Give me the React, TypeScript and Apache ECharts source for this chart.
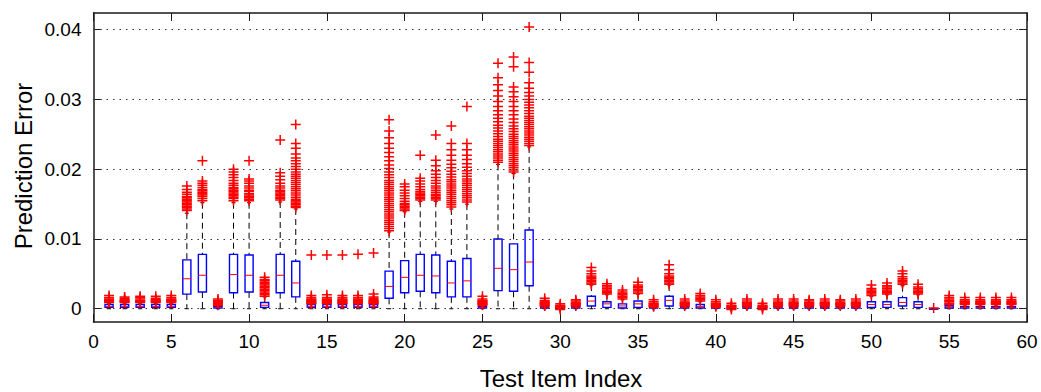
import React, { useEffect, useRef } from "react";
import * as echarts from "echarts";

// Test item indices
const items = [
  1, 2, 3, 4, 5, 6, 7, 8, 9, 10, 11, 12, 13, 14, 15, 16, 17, 18, 19, 20,
  21, 22, 23, 24, 25, 26, 27, 28, 29, 30, 31, 32, 33, 34, 35, 36, 37, 38, 39, 40,
  41, 42, 43, 44, 45, 46, 47, 48, 49, 50, 51, 52, 53, 54, 55, 56, 57, 58, 59,
];

// Box statistics per item
const whiskerLow = [
  0, 0, 0, 0, 0, 0, 0, 0, 0, 0, 0, 0, 0, 0, 0, 0, 0, 0, 0, 0,
  0, 0, 0, 0, 0, 0, 0, 0, 0, 0, 0, 0, 0, 0, 0, 0, 0, 0, 0, 0,
  0, 0, 0, 0, 0, 0, 0, 0, 0, 0, 0, 0, 0, 0, 0, 0, 0, 0, 0,
];
const q1 = [
  0.0002, 0.0002, 0.0002, 0.0002, 0.0002, 0.0021, 0.0024, 0.0001, 0.0023, 0.0024,
  0.0002, 0.0023, 0.0017, 0.0002, 0.0002, 0.0002, 0.0002, 0.0002, 0.0015, 0.0023,
  0.0025, 0.0023, 0.0017, 0.0017, 0.0001, 0.0026, 0.0025, 0.0033, 0.0001, 0.0,
  0.0001, 0.0004, 0.0002, 0.0001, 0.0002, 0.0001, 0.0004, 0.0001, 0.0001, 0.0001,
  0.0, 0.0001, 0.0, 0.0001, 0.0001, 0.0001, 0.0001, 0.0001, 0.0001, 0.0002,
  0.0002, 0.0004, 0.0002, 0.0, 0.0001, 0.0001, 0.0001, 0.0001, 0.0001,
];
const median = [
  0.0003, 0.0003, 0.0003, 0.0003, 0.0003, 0.0043, 0.0048, 0.0002, 0.0049, 0.0048,
  0.0005, 0.0048, 0.0037, 0.0003, 0.0003, 0.0003, 0.0003, 0.0003, 0.0032, 0.0045,
  0.0048, 0.0047, 0.0037, 0.004, 0.0002, 0.0058, 0.0056, 0.0067, 0.0002, 0.0001,
  0.0002, 0.0011, 0.0007, 0.0004, 0.0007, 0.0002, 0.0012, 0.0002, 0.0003, 0.0002,
  0.0001, 0.0002, 0.0001, 0.0002, 0.0002, 0.0002, 0.0002, 0.0002, 0.0002, 0.0006,
  0.0006, 0.0009, 0.0006, 0.0, 0.0003, 0.0002, 0.0002, 0.0002, 0.0002,
];
const q3 = [
  0.0006, 0.0006, 0.0006, 0.0006, 0.0006, 0.007, 0.0078, 0.0003, 0.0078, 0.0077,
  0.0009, 0.0078, 0.0068, 0.0006, 0.0006, 0.0006, 0.0006, 0.0006, 0.0054, 0.0069,
  0.0078, 0.0077, 0.0068, 0.0072, 0.0003, 0.01, 0.0093, 0.0113, 0.0003, 0.0001,
  0.0003, 0.0018, 0.001, 0.0007, 0.0011, 0.0003, 0.0018, 0.0003, 0.0006, 0.0003,
  0.0001, 0.0003, 0.0001, 0.0003, 0.0003, 0.0003, 0.0003, 0.0003, 0.0003, 0.001,
  0.001, 0.0016, 0.001, 0.0, 0.0005, 0.0003, 0.0003, 0.0003, 0.0003,
];
const whiskerHigh = [
  0.0008, 0.0008, 0.0008, 0.0008, 0.0008, 0.0137, 0.0152, 0.0004, 0.0152, 0.0152,
  0.0017, 0.0153, 0.0143, 0.0006, 0.0006, 0.0006, 0.0006, 0.0006, 0.011, 0.0139,
  0.0154, 0.0154, 0.0143, 0.015, 0.0004, 0.0207, 0.0194, 0.0232, 0.0003, 0.0001,
  0.0003, 0.0034, 0.002, 0.0013, 0.0021, 0.0003, 0.0034, 0.0003, 0.001, 0.0003,
  0.0001, 0.0003, 0.0001, 0.0003, 0.0003, 0.0003, 0.0003, 0.0003, 0.0003, 0.0018,
  0.002, 0.0033, 0.002, 0.0, 0.0006, 0.0004, 0.0004, 0.0004, 0.0004,
];

// Outlier values per item (red "+")
const outliers = [
  [0.0009, 0.001, 0.0011, 0.0012, 0.0013, 0.0014, 0.0016, 0.0019],
  [0.0009, 0.001, 0.0011, 0.0012, 0.0013, 0.0015, 0.0017],
  [0.0009, 0.001, 0.0011, 0.0012, 0.0014, 0.0016, 0.0018],
  [0.0009, 0.001, 0.0011, 0.0012, 0.0013, 0.0015, 0.0018],
  [0.0009, 0.001, 0.0011, 0.0012, 0.0013, 0.0014, 0.0016, 0.0019],
  [0.0141, 0.0143, 0.0145, 0.0147, 0.0149, 0.0151, 0.0153, 0.0155, 0.0157, 0.0159, 0.0161, 0.0164, 0.0167, 0.0171, 0.0176],
  [0.0155, 0.0158, 0.0161, 0.0163, 0.0165, 0.0167, 0.0169, 0.0171, 0.0174, 0.0177, 0.018, 0.0183, 0.0212],
  [0.0005, 0.0006, 0.0007, 0.0008, 0.0009, 0.001, 0.0011, 0.0012, 0.0014],
  [0.0155, 0.0158, 0.016, 0.0162, 0.0164, 0.0166, 0.0168, 0.017, 0.0172, 0.0174, 0.0177, 0.018, 0.0184, 0.0188, 0.0192, 0.0196, 0.02],
  [0.0155, 0.0157, 0.0159, 0.0161, 0.0163, 0.0165, 0.0168, 0.017, 0.0173, 0.0176, 0.018, 0.0183, 0.0186, 0.0212],
  [0.0018, 0.002, 0.0022, 0.0024, 0.0026, 0.0028, 0.003, 0.0032, 0.0034, 0.0036, 0.0038, 0.004, 0.0042, 0.0045],
  [0.0156, 0.0158, 0.016, 0.0162, 0.0164, 0.0166, 0.0168, 0.017, 0.0173, 0.0176, 0.018, 0.0185, 0.019, 0.0195, 0.0242],
  [0.0145, 0.0147, 0.0149, 0.0151, 0.0153, 0.0155, 0.0157, 0.016, 0.0163, 0.0166, 0.0169, 0.0172, 0.0175, 0.0178, 0.0181, 0.0184, 0.0187, 0.019, 0.0193, 0.0196, 0.02, 0.0204, 0.0208, 0.0212, 0.0216, 0.0222, 0.023, 0.0237, 0.0264],
  [0.0007, 0.0008, 0.0009, 0.001, 0.0011, 0.0012, 0.0013, 0.0014, 0.0016, 0.0019, 0.0077],
  [0.0007, 0.0008, 0.0009, 0.001, 0.0011, 0.0012, 0.0013, 0.0014, 0.0016, 0.002, 0.0077],
  [0.0007, 0.0008, 0.0009, 0.001, 0.0011, 0.0012, 0.0013, 0.0014, 0.0016, 0.0019, 0.0077],
  [0.0007, 0.0008, 0.0009, 0.001, 0.0011, 0.0012, 0.0013, 0.0014, 0.0016, 0.0019, 0.0078],
  [0.0007, 0.0008, 0.0009, 0.001, 0.0011, 0.0012, 0.0013, 0.0015, 0.0017, 0.0021, 0.008],
  [0.0112, 0.0115, 0.0118, 0.0121, 0.0124, 0.0127, 0.013, 0.0133, 0.0136, 0.0139, 0.0142, 0.0145, 0.0148, 0.0151, 0.0154, 0.0157, 0.016, 0.0163, 0.0166, 0.0169, 0.0172, 0.0175, 0.0178, 0.0181, 0.0184, 0.0188, 0.0192, 0.0196, 0.0201, 0.0206, 0.0212, 0.0218, 0.0224, 0.023, 0.0237, 0.0245, 0.0255, 0.0271],
  [0.0141, 0.0143, 0.0145, 0.0147, 0.0149, 0.0151, 0.0154, 0.0158, 0.0162, 0.0166, 0.017, 0.0175, 0.0179],
  [0.0156, 0.0158, 0.016, 0.0162, 0.0164, 0.0166, 0.0168, 0.0171, 0.0175, 0.0179, 0.0183, 0.0187, 0.022],
  [0.0156, 0.0158, 0.016, 0.0162, 0.0164, 0.0167, 0.017, 0.0173, 0.0176, 0.018, 0.0184, 0.0188, 0.0193, 0.0198, 0.0205, 0.0213, 0.0249],
  [0.0146, 0.0149, 0.0152, 0.0155, 0.0158, 0.0161, 0.0164, 0.0167, 0.017, 0.0173, 0.0176, 0.0179, 0.0182, 0.0185, 0.0189, 0.0193, 0.0197, 0.0202, 0.0207, 0.0213, 0.022, 0.0228, 0.0237, 0.0262],
  [0.0153, 0.0156, 0.0159, 0.0162, 0.0165, 0.0168, 0.0171, 0.0174, 0.0177, 0.018, 0.0183, 0.0186, 0.019, 0.0194, 0.0198, 0.0203, 0.0208, 0.0214, 0.022, 0.0228, 0.0237, 0.029],
  [0.0005, 0.0006, 0.0007, 0.0008, 0.0009, 0.001, 0.0011, 0.0012, 0.0014, 0.0018],
  [0.021, 0.0213, 0.0216, 0.0219, 0.0222, 0.0225, 0.0228, 0.0231, 0.0234, 0.0237, 0.024, 0.0243, 0.0247, 0.0251, 0.0255, 0.0259, 0.0263, 0.0268, 0.0273, 0.0278, 0.0284, 0.029, 0.0297, 0.0305, 0.0313, 0.0321, 0.0331, 0.0352],
  [0.0196, 0.0199, 0.0202, 0.0205, 0.0208, 0.0211, 0.0214, 0.0217, 0.022, 0.0223, 0.0226, 0.0229, 0.0232, 0.0235, 0.0238, 0.0241, 0.0244, 0.0247, 0.025, 0.0254, 0.0258, 0.0262, 0.0267, 0.0272, 0.0278, 0.0284, 0.029, 0.0297, 0.0304, 0.0311, 0.0318, 0.0347, 0.0361],
  [0.0234, 0.0237, 0.024, 0.0243, 0.0246, 0.0249, 0.0252, 0.0255, 0.0258, 0.0261, 0.0264, 0.0267, 0.027, 0.0273, 0.0276, 0.028, 0.0284, 0.0288, 0.0292, 0.0296, 0.03, 0.0305, 0.031, 0.0316, 0.0324, 0.0339, 0.0353, 0.0404],
  [0.0004, 0.0005, 0.0006, 0.0007, 0.0008, 0.0009, 0.001, 0.0012, 0.0015],
  [-0.0001, 0.0001, 0.0002, 0.0003, 0.0004, 0.0005, 0.0007],
  [0.0004, 0.0005, 0.0006, 0.0007, 0.0008, 0.0009, 0.0011, 0.0013],
  [0.0035, 0.0037, 0.0039, 0.0041, 0.0043, 0.0045, 0.0047, 0.005, 0.0054, 0.0059],
  [0.0021, 0.0023, 0.0025, 0.0027, 0.0029, 0.0031, 0.0033, 0.0036],
  [0.0014, 0.0016, 0.0018, 0.002, 0.0022, 0.0024, 0.0027],
  [0.0022, 0.0024, 0.0026, 0.0028, 0.003, 0.0032, 0.0034, 0.0038],
  [0.0003, 0.0004, 0.0005, 0.0006, 0.0007, 0.0008, 0.001, 0.0013],
  [0.0035, 0.0037, 0.0039, 0.0041, 0.0043, 0.0045, 0.0047, 0.005, 0.0056, 0.0063],
  [0.0004, 0.0005, 0.0006, 0.0007, 0.0008, 0.0009, 0.0011, 0.0014],
  [0.0011, 0.0013, 0.0015, 0.0017, 0.0019, 0.0022],
  [0.0003, 0.0004, 0.0005, 0.0006, 0.0007, 0.0008, 0.001, 0.0013],
  [-0.0001, 0.0001, 0.0002, 0.0003, 0.0004, 0.0005, 0.0008],
  [0.0004, 0.0005, 0.0006, 0.0007, 0.0008, 0.0009, 0.0011, 0.0014],
  [-0.0001, 0.0001, 0.0002, 0.0003, 0.0004, 0.0005, 0.0008],
  [0.0004, 0.0005, 0.0006, 0.0007, 0.0008, 0.0009, 0.0011, 0.0014],
  [0.0004, 0.0005, 0.0006, 0.0007, 0.0008, 0.0009, 0.0011, 0.0014],
  [0.0004, 0.0005, 0.0006, 0.0007, 0.0008, 0.0009, 0.0011, 0.0013],
  [0.0004, 0.0005, 0.0006, 0.0007, 0.0008, 0.0009, 0.0011, 0.0014],
  [0.0004, 0.0005, 0.0006, 0.0007, 0.0008, 0.0009, 0.0011, 0.0013],
  [0.0004, 0.0005, 0.0006, 0.0007, 0.0008, 0.0009, 0.0011, 0.0014],
  [0.0019, 0.0021, 0.0023, 0.0025, 0.0027, 0.0029, 0.0034],
  [0.0021, 0.0023, 0.0025, 0.0027, 0.0029, 0.0031, 0.0033, 0.0037],
  [0.0035, 0.0037, 0.0039, 0.0041, 0.0043, 0.0046, 0.005, 0.0054],
  [0.0021, 0.0023, 0.0025, 0.0027, 0.0029, 0.0031, 0.0035],
  [0.0001],
  [0.0006, 0.0008, 0.001, 0.0012, 0.0014, 0.0016, 0.0019],
  [0.0006, 0.0007, 0.0008, 0.0009, 0.001, 0.0011, 0.0013, 0.0016],
  [0.0006, 0.0007, 0.0008, 0.0009, 0.001, 0.0011, 0.0013, 0.0016],
  [0.0006, 0.0007, 0.0008, 0.0009, 0.001, 0.0011, 0.0013, 0.0016],
  [0.0006, 0.0007, 0.0008, 0.0009, 0.001, 0.0011, 0.0013, 0.0016],
];

const yTicks = [0, 0.01, 0.02, 0.03, 0.04];
const xTitle = "Test Item Index";
const yTitle = "Prediction Error";

const FONT = "'Liberation Sans', Arial, Helvetica, sans-serif";
const BOX_WIDTH = 0.52;

export default function App() {
  const ref = useRef<HTMLDivElement>(null);

  useEffect(() => {
    if (!ref.current) return;
    const chart = echarts.init(ref.current, undefined, { renderer: "svg" });

    const boxData = items.map((x, i) => [x, whiskerLow[i], q1[i], median[i], q3[i], whiskerHigh[i]]);
    const outlierData: number[][] = [];
    outliers.forEach((arr, i) => arr.forEach((v) => outlierData.push([items[i], v])));

    const yMin = -0.0019;
    const yMax = 0.0424;

    const tickFmt = (v: number) => (v === 0 ? "0" : v.toFixed(2));

    const option: any = {
      animation: false,
      backgroundColor: "#ffffff",
      grid: { left: 93.5, right: 14, top: 13, bottom: 70, containLabel: false },
      xAxis: [
        {
          type: "value",
          min: 0,
          max: 60,
          interval: 5,
          position: "bottom",
          axisLine: { show: true, onZero: false, lineStyle: { color: "#1a1a1a", width: 1.5 } },
          axisTick: { show: true, inside: true, length: 8, lineStyle: { color: "#1a1a1a", width: 1 } },
          axisLabel: { show: true, margin: 10, color: "#000", fontSize: 19, fontFamily: FONT },
          splitLine: { show: false },
        },
        {
          type: "value",
          min: 0,
          max: 60,
          interval: 5,
          position: "top",
          axisLine: { show: true, onZero: false, lineStyle: { color: "#1a1a1a", width: 1.5 } },
          axisTick: { show: true, inside: true, length: 8, lineStyle: { color: "#1a1a1a", width: 1 } },
          axisLabel: { show: false },
          splitLine: { show: false },
        },
      ],
      yAxis: [
        {
          type: "value",
          min: yMin,
          max: yMax,
          position: "left",
          axisLine: { show: true, onZero: false, lineStyle: { color: "#1a1a1a", width: 1.5 } },
          axisTick: { show: true, inside: true, length: 8, customValues: yTicks, lineStyle: { color: "#1a1a1a", width: 1 } },
          axisLabel: { show: true, margin: 12, color: "#000", fontSize: 19, fontFamily: FONT, customValues: yTicks, formatter: tickFmt },
          splitLine: { show: false },
        },
        {
          type: "value",
          min: yMin,
          max: yMax,
          position: "right",
          axisLine: { show: true, onZero: false, lineStyle: { color: "#1a1a1a", width: 1.5 } },
          axisTick: { show: true, inside: true, length: 8, customValues: yTicks, lineStyle: { color: "#1a1a1a", width: 1 } },
          axisLabel: { show: false, customValues: yTicks },
          splitLine: { show: false },
        },
      ],
      graphic: [
        {
          type: "text",
          x: 561,
          y: 378,
          style: {
            text: xTitle,
            font: `24px ${FONT}`,
            fill: "#000",
            textAlign: "center",
            textVerticalAlign: "middle",
          },
        },
        {
          type: "text",
          x: 23,
          y: 166,
          rotation: Math.PI / 2,
          style: {
            text: yTitle,
            font: `24px ${FONT}`,
            fill: "#000",
            textAlign: "center",
            textVerticalAlign: "middle",
          },
        },
      ],
      series: [
        {
          name: "grid",
          type: "scatter",
          data: [],
          silent: true,
          z: 1,
          markLine: {
            silent: true,
            symbol: ["none", "none"],
            label: { show: false },
            lineStyle: { color: "#333", width: 1, type: [1.5, 5] },
            emphasis: { disabled: true },
            data: yTicks.map((v) => ({ yAxis: v })),
          },
        },
        {
          name: "boxes",
          type: "custom",
          z: 2,
          silent: true,
          encode: { x: 0, y: [1, 2, 3, 4, 5] },
          data: boxData,
          renderItem: (params: any, api: any) => {
            const x = api.value(0);
            const lo = api.coord([x, api.value(1)]);
            const a = api.coord([x, api.value(2)]);
            const m = api.coord([x, api.value(3)]);
            const b = api.coord([x, api.value(4)]);
            const hi = api.coord([x, api.value(5)]);
            const w = api.size([BOX_WIDTH, 0])[0];
            const cx = lo[0];
            const dash = { stroke: "#000", lineWidth: 1, lineDash: [6, 4] };
            const solid = { stroke: "#000", lineWidth: 1 };
            return {
              type: "group",
              children: [
                { type: "line", shape: { x1: cx, y1: hi[1], x2: cx, y2: b[1] }, style: dash },
                { type: "line", shape: { x1: cx, y1: a[1], x2: cx, y2: lo[1] }, style: dash },
                { type: "line", shape: { x1: cx - w / 4, y1: hi[1], x2: cx + w / 4, y2: hi[1] }, style: solid },
                { type: "line", shape: { x1: cx - w / 4, y1: lo[1], x2: cx + w / 4, y2: lo[1] }, style: solid },
                {
                  type: "rect",
                  shape: { x: cx - w / 2, y: b[1], width: w, height: Math.max(a[1] - b[1], 0.5) },
                  style: { fill: "none", stroke: "#0000ff", lineWidth: 1.4 },
                },
                {
                  type: "line",
                  shape: { x1: cx - w / 2, y1: m[1], x2: cx + w / 2, y2: m[1] },
                  style: { stroke: "#ff0000", lineWidth: 1 },
                },
              ],
            };
          },
        },
        {
          name: "outliers",
          type: "scatter",
          z: 3,
          silent: true,
          data: outlierData,
          symbol: "path://M0,5L10,5M5,0L5,10",
          symbolSize: 10,
          itemStyle: { color: "none", borderColor: "#ff0000", borderWidth: 1.5, opacity: 1 },
        },
      ],
    };

    chart.setOption(option);
    return () => chart.dispose();
  }, []);

  return (
    <div
      ref={ref}
      style={{ position: "absolute", left: 0, top: 0, width: 1041, height: 392, background: "#fff" }}
    />
  );
}
